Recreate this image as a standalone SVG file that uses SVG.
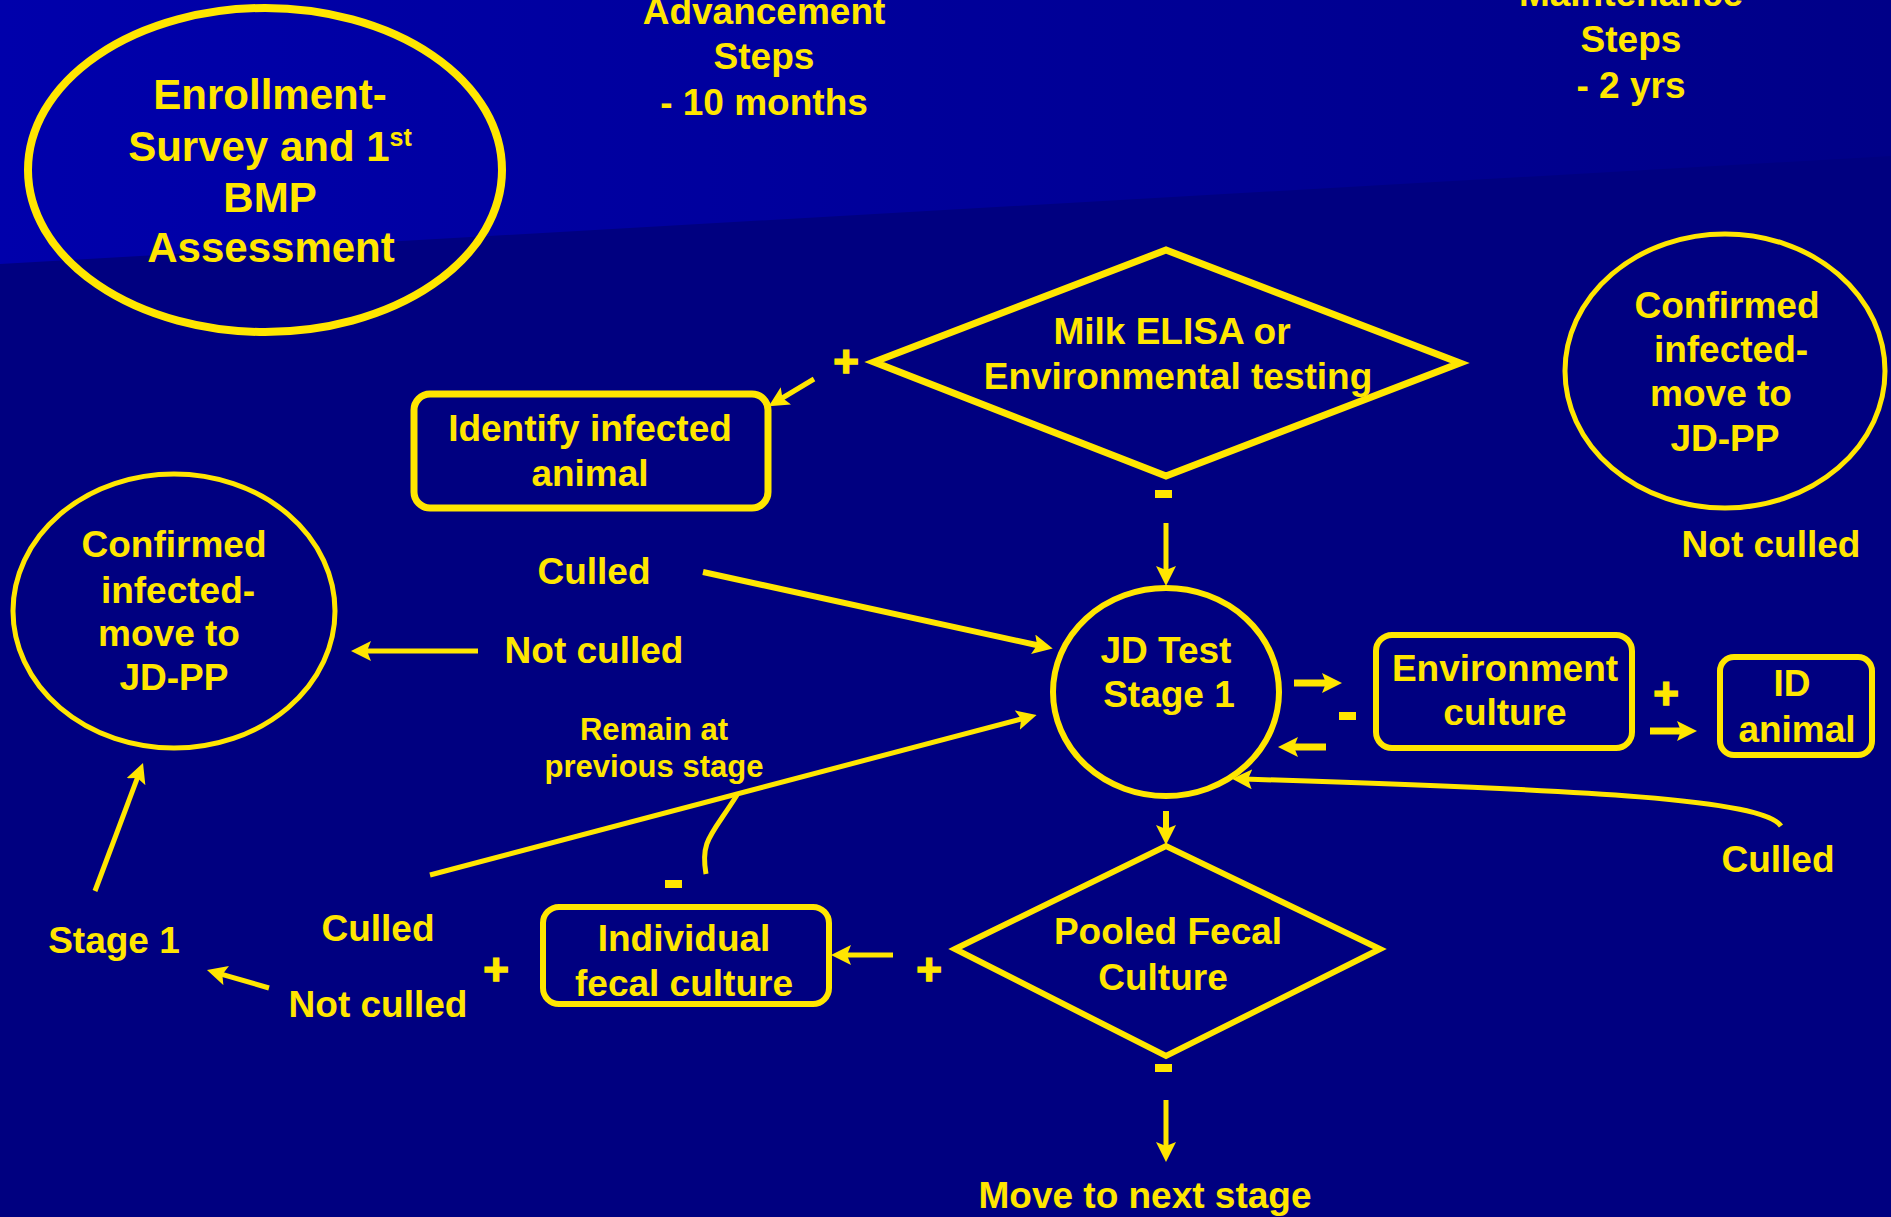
<svg xmlns="http://www.w3.org/2000/svg" width="1891" height="1217" viewBox="0 0 1891 1217">
<style>
text{font-family:"Liberation Sans",Arial,sans-serif;font-weight:bold;fill:#FFE600;text-anchor:middle}
.t37{font-size:37px}
.t42{font-size:42px}
.t31{font-size:31px}
.sign{font-size:44px;stroke:#FFE600;stroke-width:1.5}
.shape{fill:none;stroke:#FFE600;stroke-width:7}
.thin{fill:none;stroke:#FFE600;stroke-width:5}
.ln{fill:none;stroke:#FFE600;stroke-width:5;marker-end:url(#ah)}
</style>
<defs>
<linearGradient id="bg" x1="0" y1="0" x2="1" y2="0">
<stop offset="0" stop-color="#0000AB"/>
<stop offset="1" stop-color="#000088"/>
</linearGradient>
<marker id="ah" markerUnits="userSpaceOnUse" viewBox="0 0 20 20" markerWidth="20" markerHeight="20" refX="8" refY="10" orient="auto">
<path d="M0,0 L20,10 L0,20 L4,10 z" fill="#FFE600"/>
</marker>
</defs>
<rect x="0" y="0" width="1891" height="1217" fill="#000080"/>
<polygon points="0,0 1891,0 1891,156 0,264" fill="url(#bg)"/>

<g id="connectors">
<line class="ln" x1="814" y1="379" x2="779" y2="400"/>
<line class="ln" x1="1166" y1="523" x2="1166" y2="574"/>
<line class="ln" x1="703" y1="572" x2="1041" y2="646" style="stroke-width:6"/>
<line class="ln" x1="478" y1="651" x2="363" y2="651"/>
<line class="ln" x1="430" y1="875" x2="1025" y2="718"/>
<path class="thin" d="M737,795 C712,835 700,840 706,874"/>
<line class="ln" x1="1294" y1="683" x2="1330" y2="683" style="stroke-width:7"/>
<line class="ln" x1="1326" y1="747" x2="1290" y2="747" style="stroke-width:7"/>
<line class="ln" x1="1650" y1="731" x2="1685" y2="731" style="stroke-width:7"/>
<path class="ln" d="M1781,826 C1763,800 1600,790 1244,779"/>
<line class="ln" x1="1166" y1="811" x2="1166" y2="833" style="stroke-width:6"/>
<line class="ln" x1="1166" y1="1100" x2="1166" y2="1150"/>
<line class="ln" x1="893" y1="955" x2="843" y2="955"/>
<line class="ln" x1="269" y1="988" x2="218.5" y2="973.3"/>
<line class="ln" x1="95" y1="891" x2="138.8" y2="774.2"/>
</g>

<g id="enrollment">
<ellipse class="shape" cx="265" cy="170" rx="237" ry="162" style="stroke-width:8"/>
<text class="t42" x="270" y="109">Enrollment-</text>
<text class="t42" x="270" y="161">Survey and 1<tspan font-size="25" dy="-15">st</tspan></text>
<text class="t42" x="270" y="212">BMP</text>
<text class="t42" x="271" y="262">Assessment</text>
</g>

<g id="advancement">
<text class="t37" x="764" y="24">Advancement</text>
<text class="t37" x="764" y="69">Steps</text>
<text class="t37" x="764" y="115">- 10 months</text>
</g>

<g id="maintenance">
<text class="t37" x="1631" y="6">Maintenance</text>
<text class="t37" x="1631" y="52">Steps</text>
<text class="t37" x="1631" y="98">- 2 yrs</text>
</g>

<g id="milk-elisa">
<polygon class="shape" points="874,362 1166,250 1460,363 1166,476"/>
<text class="t37" x="1172" y="344">Milk ELISA or</text>
<text class="t37" x="1178" y="389">Environmental testing</text>
</g>

<g id="identify">
<rect class="shape" x="414" y="394" width="354" height="114" rx="16"/>
<text class="t37" x="590" y="441">Identify infected</text>
<text class="t37" x="590" y="486">animal</text>
</g>

<g id="confirmed-right">
<ellipse class="shape" cx="1725" cy="371" rx="160" ry="137" style="stroke-width:5"/>
<text class="t37" x="1727" y="318">Confirmed</text>
<text class="t37" x="1731" y="362">infected-</text>
<text class="t37" x="1721" y="406">move to</text>
<text class="t37" x="1725" y="451">JD-PP</text>
</g>

<g id="confirmed-left">
<ellipse class="shape" cx="174" cy="611" rx="161" ry="137" style="stroke-width:5"/>
<text class="t37" x="174" y="557">Confirmed</text>
<text class="t37" x="178" y="603">infected-</text>
<text class="t37" x="169" y="646">move to</text>
<text class="t37" x="174" y="690">JD-PP</text>
</g>

<g id="jd-test">
<ellipse class="shape" cx="1166" cy="692" rx="113" ry="104" style="stroke-width:6"/>
<text class="t37" x="1166" y="663">JD Test</text>
<text class="t37" x="1169" y="707">Stage 1</text>
</g>

<g id="environment">
<rect class="shape" x="1376" y="635" width="256" height="113" rx="16" style="stroke-width:6"/>
<text class="t37" x="1505" y="681">Environment</text>
<text class="t37" x="1505" y="725">culture</text>
</g>

<g id="id-animal">
<rect class="shape" x="1720" y="657" width="152" height="98" rx="14" style="stroke-width:6"/>
<text class="t37" x="1792" y="696">ID</text>
<text class="t37" x="1797" y="742">animal</text>
</g>

<g id="pooled">
<polygon class="shape" points="955,949 1166,846 1380,949 1166,1056" style="stroke-width:6"/>
<text class="t37" x="1168" y="944">Pooled Fecal</text>
<text class="t37" x="1163" y="990">Culture</text>
</g>

<g id="individual">
<rect class="shape" x="543" y="907" width="286" height="97" rx="16" style="stroke-width:6"/>
<text class="t37" x="684" y="951">Individual</text>
<text class="t37" x="684" y="996">fecal culture</text>
</g>

<g id="labels">
<text class="t37" x="594" y="584">Culled</text>
<text class="t37" x="594" y="663">Not culled</text>
<text class="t31" x="654" y="740">Remain at</text>
<text class="t31" x="654" y="777">previous stage</text>
<text class="t37" x="378" y="941">Culled</text>
<text class="t37" x="378" y="1017">Not culled</text>
<text class="t37" x="114" y="953">Stage 1</text>
<text class="t37" x="1771" y="557">Not culled</text>
<text class="t37" x="1778" y="872">Culled</text>
<text class="t37" x="1145" y="1208">Move to next stage</text>
<text class="sign" x="846" y="377">+</text>
<text class="sign" x="1666" y="709">+</text>
<text class="sign" x="929" y="985">+</text>
<text class="sign" x="496" y="985">+</text>
<rect x="1155" y="490" width="17" height="8" fill="#FFE600"/>
<rect x="1339" y="712" width="17" height="8" fill="#FFE600"/>
<rect x="665" y="880" width="17" height="8" fill="#FFE600"/>
<rect x="1155" y="1064" width="17" height="8" fill="#FFE600"/>
</g>
</svg>
